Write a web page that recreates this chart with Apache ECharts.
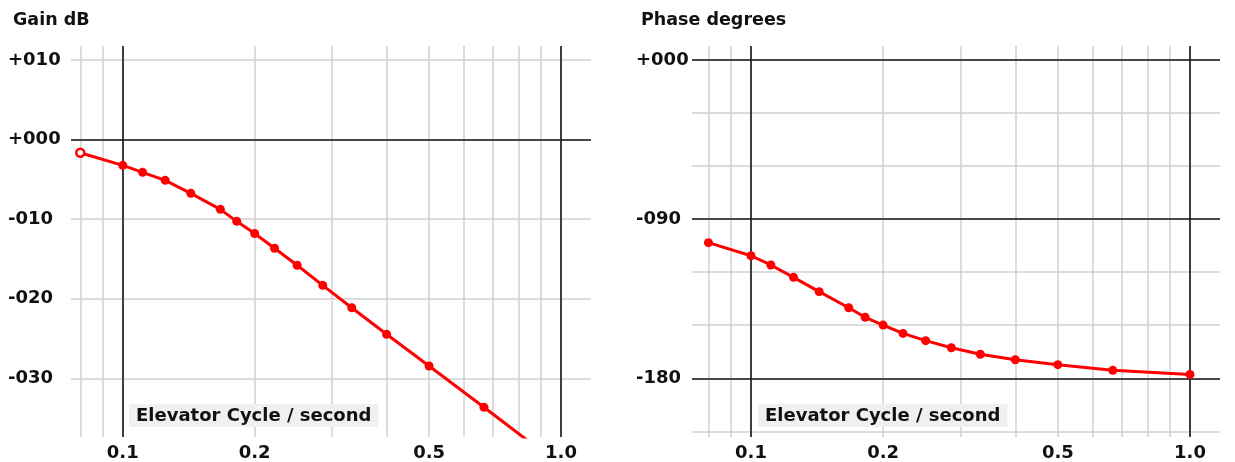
<!DOCTYPE html>
<html>
<head>
<meta charset="utf-8">
<script src="https://cdn.jsdelivr.net/npm/echarts@6/dist/echarts.min.js"></script>
<style>
html, body { margin: 0; padding: 0; background: #fff; }
#showChart { width: 1235px; height: 462px; }
</style>
</head>
<body>
<div id="showChart"></div>
<script>
// frequencies (cycles / second) of the plotted points
var freqs = [0.08, 0.1, 0.111, 0.125, 0.143, 0.167, 0.182, 0.2, 0.222, 0.25, 0.286, 0.333, 0.4, 0.5, 0.667, 1.0];
var gainDb = [-1.66, -3.24, -4.12, -5.13, -6.76, -8.77, -10.28, -11.81, -13.66, -15.80, -18.32, -21.13, -24.47, -28.45, -33.64, -41.0];
var phaseDeg = [-103.3, -110.7, -115.9, -122.9, -131.0, -140.1, -145.5, -149.9, -154.6, -158.7, -162.7, -166.4, -169.5, -172.3, -175.5, -177.8];

// grid lines and labels
var freqGrid = [0.08, 0.09, 0.1, 0.2, 0.3, 0.4, 0.5, 0.6, 0.7, 0.8, 0.9, 1.0];
var freqLabels = [0.1, 0.2, 0.5, 1.0];
var gainTicks = [10, 0, -10, -20, -30];
var phaseGrid = [0, -30, -60, -90, -120, -150, -180, -210];
var phaseLabels = [0, -90, -180];

var FONT = 'DejaVu Sans';
var gridGray = '#d0d0d0';
var dark = '#161616';

function fmtSigned(v) {
    var s = String(Math.abs(Math.round(v)));
    while (s.length < 3) s = '0' + s;
    return (v < 0 ? '-' : '+') + s;
}

function pairs(ys, hollowFirst) {
    return freqs.map(function (f, i) {
        var item = {value: [f, ys[i]]};
        if (hollowFirst && i === 0) {
            item.itemStyle = {color: '#fff', borderColor: '#ff0000', borderWidth: 2.5};
            item.symbolSize = 8;
        }
        return item;
    });
}

function xAxisFor(idx, min, max) {
    return {
        type: 'log',
        gridIndex: idx,
        min: min,
        max: max,
        axisLine: {show: false},
        axisTick: {show: false, customValues: freqGrid},
        splitLine: {show: true, lineStyle: {color: gridGray, width: 1.5}},
        minorTick: {show: false},
        minorSplitLine: {show: false},
        axisLabel: {
            customValues: freqLabels,
            formatter: function (v) { return Number(v).toFixed(1); },
            margin: 7,
            fontSize: 18,
            fontWeight: 'bold',
            fontFamily: FONT,
            color: '#111'
        }
    };
}

function yAxisFor(idx, min, max, grid, labels, margin) {
    return {
        type: 'value',
        gridIndex: idx,
        min: min,
        max: max,
        axisLine: {show: false},
        axisTick: {show: false, customValues: grid},
        splitLine: {show: true, lineStyle: {color: gridGray, width: 1.5}},
        axisLabel: {
            customValues: labels,
            formatter: fmtSigned,
            align: 'left',
            margin: margin,
            fontSize: 18,
            fontWeight: 'bold',
            fontFamily: FONT,
            color: '#111'
        }
    };
}

function darkLines(list) {
    return {
        silent: true,
        symbol: 'none',
        z: 1,
        animation: false,
        label: {show: false},
        lineStyle: {color: dark, width: 1.6, type: 'solid'},
        data: list
    };
}

var titleStyle = {fontSize: 17.5, fontWeight: 'bold', fontFamily: FONT, color: '#111'};
var boxStyle = {fontSize: 18, fontWeight: 'bold', fontFamily: FONT, color: '#111'};

var option = {
    animation: false,
    title: [
        {text: 'Gain dB', left: 13, top: 11, padding: 0, textStyle: titleStyle},
        {text: 'Phase degrees', left: 641, top: 11, padding: 0, textStyle: titleStyle},
        {text: 'Elevator Cycle / second', left: 129, top: 404, padding: [3, 7, 2, 7],
            backgroundColor: '#f0f0f0', textStyle: boxStyle},
        {text: 'Elevator Cycle / second', left: 758, top: 404, padding: [3, 7, 2, 7],
            backgroundColor: '#f0f0f0', textStyle: boxStyle}
    ],
    grid: [
        {left: 71, top: 46, width: 520, height: 391},
        {left: 692, top: 46, width: 528, height: 391}
    ],
    xAxis: [
        xAxisFor(0, 0.0762, 1.1706),
        xAxisFor(1, 0.0734, 1.1704)
    ],
    yAxis: [
        yAxisFor(0, -37.37, 11.75, gainTicks, gainTicks, 63),
        yAxisFor(1, -213.2, 7.92, phaseGrid, phaseLabels, 56)
    ],
    series: [
        {
            type: 'line',
            xAxisIndex: 0,
            yAxisIndex: 0,
            z: 3,
            data: pairs(gainDb, true),
            symbol: 'circle',
            symbolSize: 9,
            lineStyle: {color: '#ff0000', width: 3},
            itemStyle: {color: '#ff0000'},
            markLine: darkLines([{xAxis: 0.1}, {xAxis: 1.0}, {yAxis: 0}])
        },
        {
            type: 'line',
            xAxisIndex: 1,
            yAxisIndex: 1,
            z: 3,
            data: pairs(phaseDeg, false),
            symbol: 'circle',
            symbolSize: 9,
            lineStyle: {color: '#ff0000', width: 3},
            itemStyle: {color: '#ff0000'},
            markLine: darkLines([{xAxis: 0.1}, {xAxis: 1.0}, {yAxis: 0}, {yAxis: -90}, {yAxis: -180}])
        }
    ]
};

var chartOutChar = echarts.init(document.getElementById('showChart'));
chartOutChar.setOption(option);
</script>
</body>
</html>
